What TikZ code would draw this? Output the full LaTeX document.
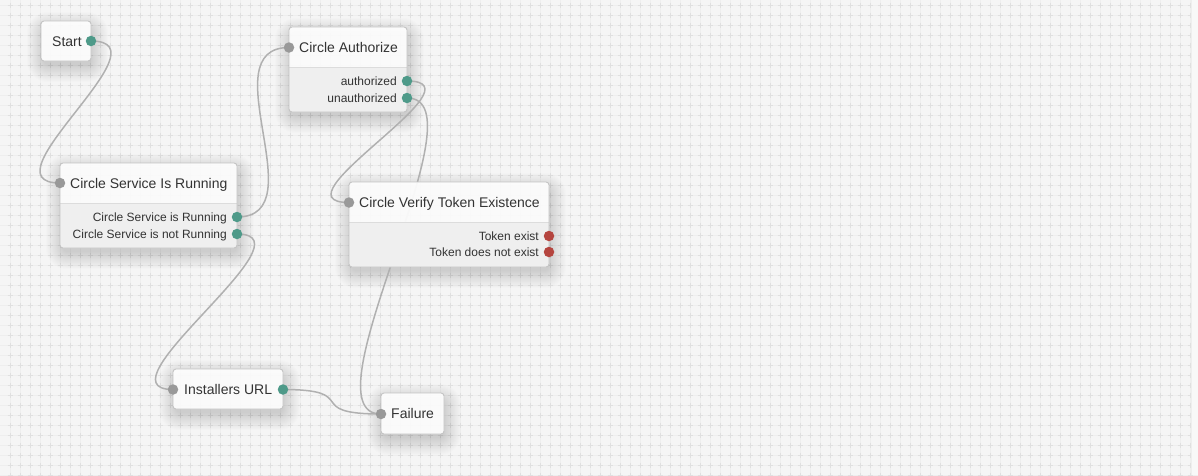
\documentclass[tikz,border=0pt]{standalone}
\usepackage{fontspec}
\setmainfont{Liberation Sans}
\usetikzlibrary{calc}
\definecolor{bgcol}{HTML}{F5F5F5}
\definecolor{gridcol}{HTML}{EEEEEE}
\definecolor{crosscol}{HTML}{E0E0E0}
\definecolor{bordercol}{HTML}{C4C4C4}
\definecolor{bodycol}{HTML}{EEEEEE}
\definecolor{dividercol}{HTML}{DCDCDC}
\definecolor{textcol}{HTML}{333333}
\definecolor{portgrey}{HTML}{999999}
\definecolor{portteal}{HTML}{4E9A89}
\definecolor{portred}{HTML}{B5453F}
\definecolor{wirecol}{HTML}{B0B0B0}
\definecolor{stripcol}{HTML}{F8F8F8}
\pgfdeclarelayer{bg}
\pgfdeclarelayer{shadowlayer}
\pgfdeclarelayer{wires}
\pgfsetlayers{bg,shadowlayer,wires,main}
\tikzset{
  card/.style={rectangle, rounded corners=3pt, inner sep=0pt, outer sep=0pt,
    fill=white, fill opacity=0.9},
  cardborder/.style={draw=bordercol, line width=0.9pt},
  divider/.style={draw=dividercol, line width=0.9pt},
  softshadow/.style={fill=black, fill opacity=0.006},
  port/.style={circle, minimum size=10.5pt, inner sep=0pt, outer sep=0pt},
  greyport/.style={port, fill=portgrey},
  tealport/.style={port, fill=portteal},
  redport/.style={port, fill=portred},
  titletext/.style={anchor=base west, inner sep=0pt, text=textcol,
    font=\fontsize{14pt}{16pt}\selectfont},
  porttext/.style={anchor=base east, inner sep=0pt, text=textcol,
    font=\fontsize{12pt}{14pt}\selectfont},
  wire/.style={draw=wirecol, line width=1.5pt},
}
\newcommand\flowcard[6]{%
  \node[card, minimum width=#4pt, minimum height=#5pt, anchor=north west] (#1) at (#2,#3) {};
  \begin{pgfonlayer}{shadowlayer}
    \foreach \s in {0,...,19} {
      \fill[softshadow, rounded corners={4pt+0.9pt*\s}]
        ($(#1.north west)+(3-0.9*\s,8-0.9*\s)$) rectangle ($(#1.south east)+(0+0.9*\s,4+0.9*\s)$);
    }
  \end{pgfonlayer}
  \ifnum#6=1
    \begin{scope}
      \clip[rounded corners=3pt] (#1.north west) rectangle (#1.south east);
      \fill[bodycol, fill opacity=0.88] ([yshift=-40pt]#1.north west) rectangle (#1.south east);
    \end{scope}
    \draw[divider] ([yshift=-40pt]#1.north west) -- ([yshift=-40pt]#1.north east);
  \fi
  \draw[cardborder, rounded corners=3pt] (#1.north west) rectangle (#1.south east);
}
\begin{document}
\begin{tikzpicture}[x=1pt, y=-1pt]
\useasboundingbox (0,0) rectangle (1198,475);
\begin{pgfonlayer}{bg}
  \fill[bgcol] (0,0) rectangle (1198,475);
  \draw[gridcol, line width=0.8pt]
    \foreach \x in {10,20,...,1190} {(\x,0) -- (\x,475)}
    \foreach \y in {5,15,...,475} {(0,\y) -- (1198,\y)};
  \draw[crosscol, line width=0.9pt]
    \foreach \x in {10,20,...,1190} {\foreach \y in {5,15,...,475}
      {(\x-2.5,\y) -- (\x+2.5,\y) (\x,\y-2.5) -- (\x,\y+2.5)}};
  \fill[stripcol] (1192,0) rectangle (1198,475);
  \draw[gridcol, line width=1pt] (1191.5,0) -- (1191.5,475);
\end{pgfonlayer}

% cards
\flowcard{start}{41}{21}{50}{40}{0}
\flowcard{csir}{60}{163}{177}{85}{1}
\flowcard{auth}{289}{27}{118}{85}{1}
\flowcard{verify}{349}{182}{200}{85}{1}
\flowcard{inst}{173}{369}{110}{40}{0}
\flowcard{fail}{381}{393}{63}{41}{0}

% titles
\node[titletext] (start-t) at (52,46) {Start};
\node[titletext] (csir-t) at (70,188) {Circle Service Is Running};
\node[titletext] (auth-t) at (299,52) {Circle Authorize};
\node[titletext] (verify-t) at (359,207) {Circle Verify Token Existence};
\node[titletext] (inst-t) at (184,394) {Installers URL};
\node[titletext] (fail-t) at (391,418.5) {Failure};

% port labels
\node[porttext] (csir-l1) at (227,221.5) {Circle Service is Running};
\node[porttext] (csir-l2) at (227,238.5) {Circle Service is not Running};
\node[porttext] (auth-l1) at (397,85.5) {authorized};
\node[porttext] (auth-l2) at (397,102.5) {unauthorized};
\node[porttext] (verify-l1) at (539,240.5) {Token exist};
\node[porttext] (verify-l2) at (539,256.5) {Token does not exist};

% ports
\node[tealport] (start-o) at (91,41) {};
\node[greyport] (csir-i) at (60,183) {};
\node[tealport] (csir-o1) at (237,217) {};
\node[tealport] (csir-o2) at (237,234) {};
\node[greyport] (auth-i) at (289,47.5) {};
\node[tealport] (auth-o1) at (407,81) {};
\node[tealport] (auth-o2) at (407,98) {};
\node[greyport] (verify-i) at (349,202.5) {};
\node[redport] (verify-o1) at (549,236) {};
\node[redport] (verify-o2) at (549,252) {};
\node[greyport] (inst-i) at (173,389.5) {};
\node[tealport] (inst-o) at (283,389.5) {};
\node[greyport] (fail-i) at (381,414) {};

% connectors
\begin{pgfonlayer}{wires}
  \draw[wire] (start-o.center) .. controls +(80,0) and +(-80,0) .. (csir-i.center);
  \draw[wire] (csir-o1.center) .. controls +(80,0) and +(-80,0) .. (auth-i.center);
  \draw[wire] (csir-o2.center) .. controls +(80,0) and +(-80,0) .. (inst-i.center);
  \draw[wire] (auth-o1.center) .. controls +(80,0) and +(-80,0) .. (verify-i.center);
  \draw[wire] (auth-o2.center) .. controls +(80,0) and +(-80,0) .. (fail-i.center);
  \draw[wire] (inst-o.center) .. controls +(80,0) and +(-80,0) .. (fail-i.center);
\end{pgfonlayer}
\end{tikzpicture}
\end{document}
